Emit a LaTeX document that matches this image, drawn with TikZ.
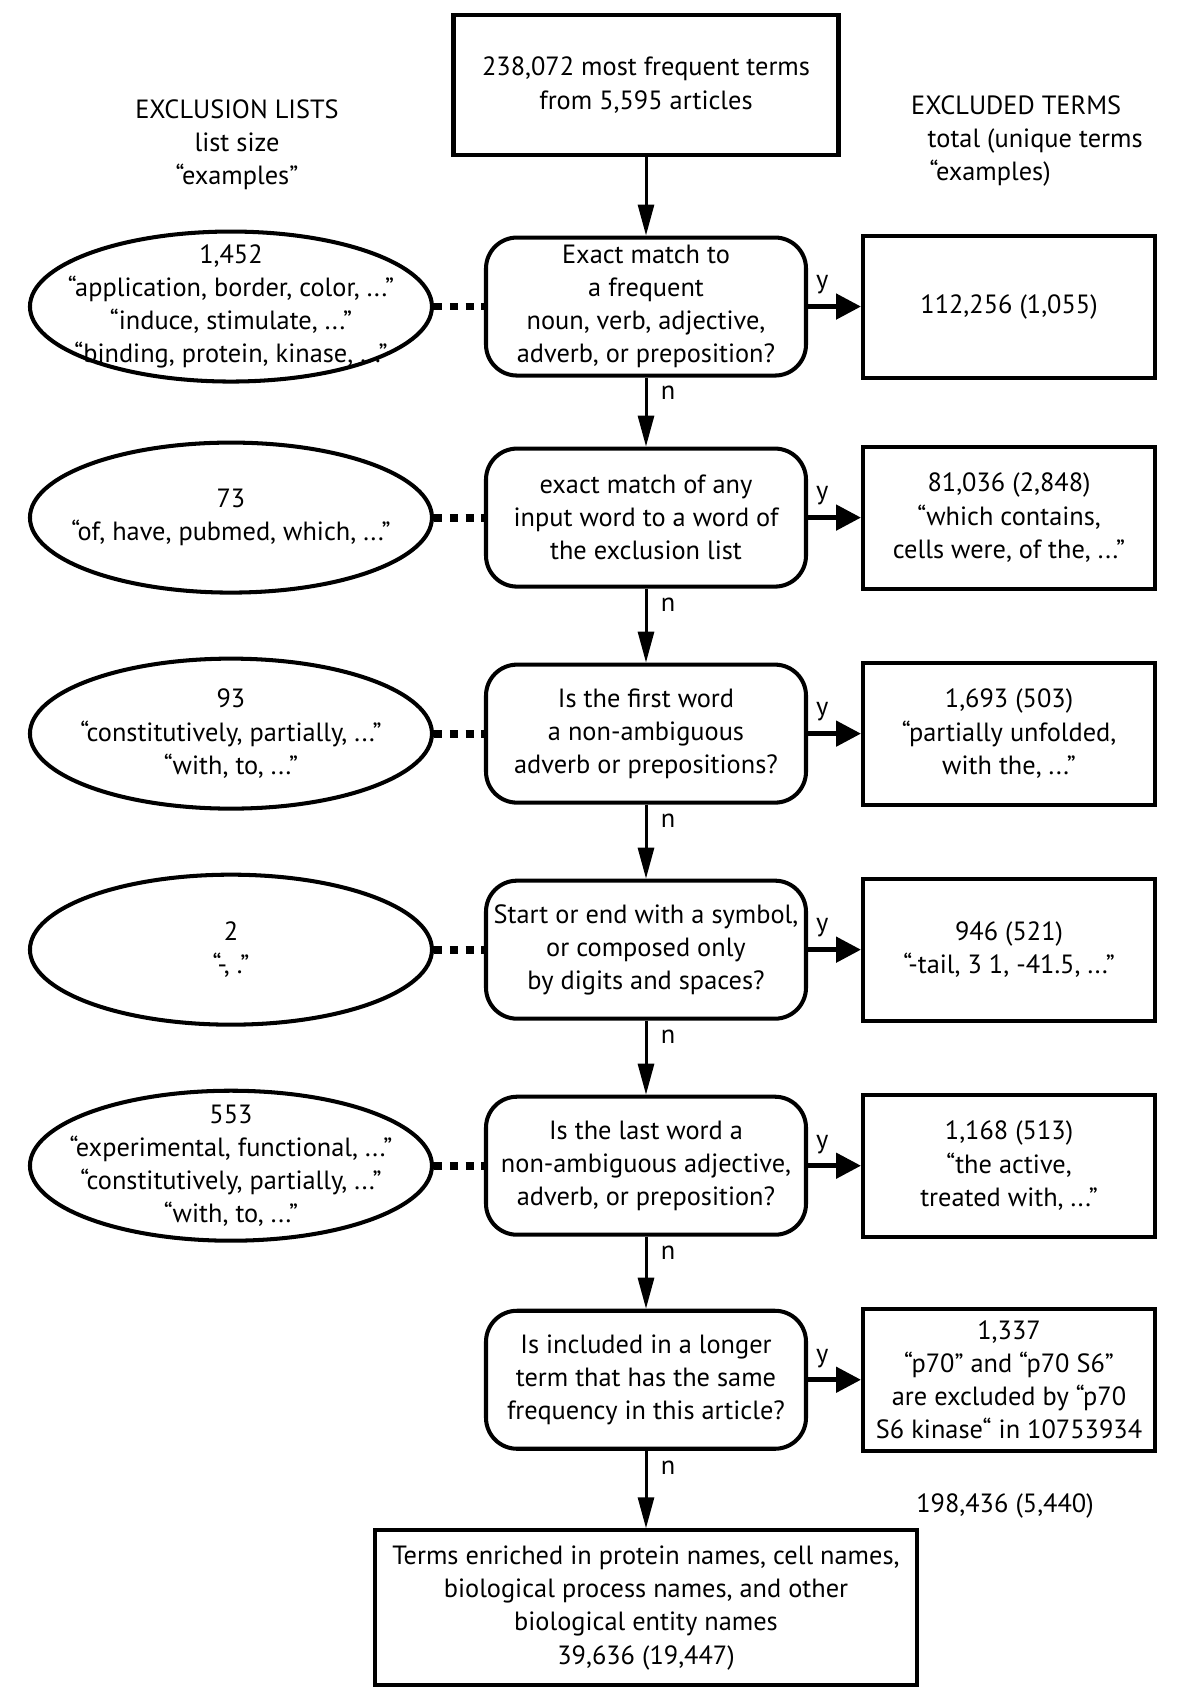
\documentclass[tikz,border=0pt]{standalone}
\usepackage{fontspec}
\setmainfont{PT Sans}
\usetikzlibrary{arrows.meta, positioning, shapes.geometric}

\tikzset{
	flowbox/.style={draw, line width=2.3pt, align=center, inner xsep=0pt},
	decision/.style={flowbox, rounded corners=0.62cm, minimum width=6.4cm, minimum height=2.76cm},
	excluded/.style={flowbox, minimum width=5.84cm, minimum height=2.84cm},
	exlist/.style={flowbox, ellipse, minimum width=8.04cm, minimum height=3.0cm, inner xsep=-2.6cm, inner ysep=-1cm},
	noedge/.style={-{Triangle[length=0.62cm, width=0.32cm]}, line width=1.7pt},
	yesedge/.style={-{Triangle[length=0.5cm, width=0.5cm]}, line width=2.8pt},
	listedge/.style={line width=4.5pt, dash pattern=on 4.5pt off 4.5pt},
	nlabel/.style={right, pos=0.22, xshift=0.15cm},
	ylabel/.style={above, pos=0.27, yshift=0.08cm},
}

\begin{document}
\begin{tikzpicture}[every node/.style={font=\fontsize{15}{18.9}\selectfont}]
		
		\useasboundingbox (0,0) rectangle (24,-34.06);
		
		% headings
		\node[align=center] (listhead) at (4.74,-2.9) {EXCLUSION LISTS\\list size\\“examples”};
		\node[align=left, anchor=west] (termhead) at (18.1,-2.82) {EXCLUDED TERMS\\\hspace*{0.33cm}total (unique terms\\\hspace*{0.37cm}“examples)};
		
		% main column
		\node[flowbox, minimum width=7.7cm, minimum height=2.8cm] (top) at (12.92,-1.70) {238,072 most frequent terms\\from 5,595 articles};
		\node[decision, below=1.57cm of top] (d1) {Exact match to\\a frequent\\noun, verb, adjective,\\adverb, or preposition?};
		\node[decision, below=1.38cm of d1] (d2) {exact match of any\\input word to a word of\\the exclusion list};
		\node[decision, below=1.48cm of d2] (d3) {Is the first word\\a non-ambiguous\\adverb or prepositions?};
		\node[decision, below=1.48cm of d3] (d4) {Start or end with a symbol,\\or composed only\\by digits and spaces?};
		\node[decision, below=1.48cm of d4] (d5) {Is the last word a\\non-ambiguous adjective,\\adverb, or preposition?};
		\node[decision, below=1.44cm of d5] (d6) {Is included in a longer\\term that has the same\\frequency in this article?};
		\node[flowbox, minimum width=10.84cm, minimum height=3.1cm, below=1.55cm of d6] (final) {Terms enriched in protein names, cell names,\\biological process names, and other\\biological entity names\\39,636 (19,447)};
		
		% exclusion lists
		\node[exlist, left=1cm of d1] (e1) {1,452\\“application, border, color, ...”\\“induce, stimulate, ...”\\“binding, protein, kinase, ...”};
		\node[exlist, left=1cm of d2] (e2) {73\\“of, have, pubmed, which, ...”};
		\node[exlist, left=1cm of d3] (e3) {93\\“constitutively, partially, ...”\\“with, to, ...”};
		\node[exlist, left=1cm of d4] (e4) {2\\“-, .”};
		\node[exlist, left=1cm of d5] (e5) {553\\“experimental, functional, ...”\\“constitutively, partially, ...”\\“with, to, ...”};
		
		% excluded terms
		\node[excluded, right=1.06cm of d1] (r1) {112,256 (1,055)};
		\node[excluded, right=1.06cm of d2] (r2) {81,036 (2,848)\\“which contains,\\cells were, of the, ...”};
		\node[excluded, right=1.06cm of d3] (r3) {1,693 (503)\\“partially unfolded,\\with the, ...”};
		\node[excluded, right=1.06cm of d4] (r4) {946 (521)\\“-tail, 3 1, -41.5, ...”};
		\node[excluded, right=1.06cm of d5] (r5) {1,168 (513)\\“the active,\\treated with, ...”};
		\node[excluded, right=1.06cm of d6] (r6) {1,337\\“p70” and “p70 S6”\\are excluded by “p70\\S6 kinase“ in 10753934};
		\node (total) at (20.1,-30.12) {198,436 (5,440)};
		
		\draw[noedge]
		(top) edge (d1)
		(d1) edge node[nlabel] {n} (d2)
		(d2) edge node[nlabel] {n} (d3)
		(d3) edge node[nlabel] {n} (d4)
		(d4) edge node[nlabel] {n} (d5)
		(d5) edge node[nlabel] {n} (d6)
		(d6) edge node[nlabel] {n} (final);
		
		\draw[yesedge]
		(d1) edge node[ylabel] {y} (r1)
		(d2) edge node[ylabel] {y} (r2)
		(d3) edge node[ylabel] {y} (r3)
		(d4) edge node[ylabel] {y} (r4)
		(d5) edge node[ylabel] {y} (r5)
		(d6) edge node[ylabel] {y} (r6);
		
		\draw[listedge]
		(e1) edge (d1)
		(e2) edge (d2)
		(e3) edge (d3)
		(e4) edge (d4)
		(e5) edge (d5);
		
\end{tikzpicture}
\end{document}
